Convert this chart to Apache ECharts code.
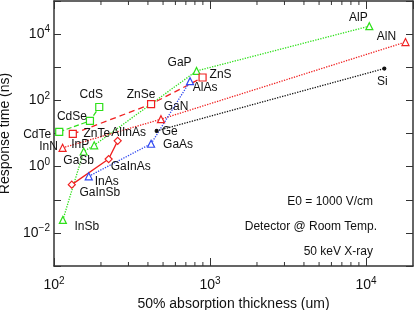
<!DOCTYPE html>
<html><head><meta charset="utf-8">
<script src="https://cdn.jsdelivr.net/npm/echarts@6/dist/echarts.min.js"></script>
<style>html,body{margin:0;padding:0;background:#fff}#c{width:415px;height:310px}</style>
</head><body><div id="c"></div>
<script>
// ---- data (thickness um, response time ns) ----
var cdNames = ['CdTe', 'CdSe', 'CdS'];
var cdX = [108, 170, 195];
var cdY = [11.2, 24, 63];

var znNames = ['ZnTe', 'ZnSe', 'ZnS'];
var znX = [132, 419, 896];
var znY = [9.7, 77, 490];

var nNames = ['InN', 'GaN', 'AlN'];
var nX = [113.5, 485, 17900];
var nY = [3.7, 27, 5750];

var sbpNames = ['InSb', 'GaSb', 'InP', 'GaP', 'AlP'];
var sbpX = [114, 155, 181, 820, 10500];
var sbpY = [0.0246, 2.86, 4.4, 774, 17400];

var asNames = ['InAs', 'GaAs', 'AlAs'];
var asX = [167, 419, 745];
var asY = [0.51, 4.9, 380];

var alloyNames = ['GaInSb', 'GaInAs', 'AlInAs'];
var alloyX = [130, 224, 256];
var alloyY = [0.286, 1.69, 6.0];

var elemNames = ['Ge', 'Si'];
var elemX = [455, 13100];
var elemY = [12, 914];

var xMinorTicks = [200, 300, 400, 500, 600, 700, 800, 900, 2000, 3000, 4000, 5000, 6000, 7000, 8000, 9000];
var notes = ['E0 = 1000 V/cm', 'Detector @ Room Temp.', '50 keV X-ray'];
var xTitle = '50% absorption thickness (um)';
var yTitle = 'Response time (ns)';

// ---- styling (label offsets relative to marker centre) ----
var labelOffsets = {
  CdTe: [-22, 3], CdSe: [-18, -4], CdS: [-8, -12],
  ZnTe: [24, 0], ZnSe: [-10, -9], ZnS: [18, -3],
  InN: [-14, -1], GaN: [15, -13], AlN: [-19, -5],
  InSb: [24, 7], GaSb: [-5, 9], InP: [-14, -1], GaP: [-17, -8], AlP: [-11, -8],
  InAs: [18, 5], GaAs: [27, 1], AlAs: [15, 7],
  GaInSb: [28, 8], GaInAs: [22, 8], AlInAs: [11, -8],
  Ge: [13, 1], Si: [-2, 13]
};
var FONT = '"Liberation Sans", Arial, Helvetica, sans-serif';
var GREEN = '#2ee01a', RED = '#f02020', BLUE = '#3048f0', BLACK = '#111';

function mk(names, xs, ys) {
  return names.map(function (n, i) {
    return { name: n, value: [xs[i], ys[i]], label: { offset: labelOffsets[n] } };
  });
}
function ser(names, xs, ys, color, symbol, size, lineType, filled) {
  return {
    type: 'line', data: mk(names, xs, ys), symbol: symbol, symbolSize: size,
    showAllSymbol: true,
    lineStyle: { color: color, width: 1.3, type: lineType },
    itemStyle: { color: filled ? color : '#fff', borderColor: color, borderWidth: 1.2 },
    label: { show: true, position: 'inside', formatter: '{b}', color: '#111',
      fontSize: 12, fontFamily: FONT },
    emphasis: { disabled: true }, z: 3
  };
}

function expOf(v) {
  var l = Math.log(v) / Math.LN10, e = Math.round(l);
  return Math.abs(l - e) > 1e-6 ? null : e;
}
function supText(e) { return '{b|10}{s|' + (e < 0 ? '\u2212' + (-e) : e) + '}'; }
function xLabel(v) { var e = expOf(v); return e === null ? '' : supText(e); }
function yLabel(v) { var e = expOf(v); return (e === null || Math.abs(e) % 2 === 1) ? '' : supText(e); }
var rich = {
  b: { fontSize: 14, fontFamily: FONT, color: '#111' },
  s: { fontSize: 10, fontFamily: FONT, color: '#111', padding: [0, 0, 9, 0] }
};
var axisLine = { show: true, lineStyle: { color: '#333', width: 1.5 } };

var chart = echarts.init(document.getElementById('c'));
chart.setOption({
  animation: false,
  grid: { left: 54, right: 2, top: 1, bottom: 44, containLabel: false, outerBoundsMode: 'none' },
  xAxis: [{
    type: 'log', logBase: 10, min: 100, max: 20000, position: 'bottom',
    axisLine: axisLine, splitLine: { show: false },
    axisTick: { inside: true, length: 8, lineStyle: { color: '#333' } },
    axisLabel: { formatter: xLabel, rich: rich, margin: 10, showMaxLabel: false },
    name: xTitle, nameLocation: 'middle', nameGap: 30,
    nameTextStyle: { fontSize: 14, fontFamily: FONT, color: '#111' }
  }, {
    type: 'log', logBase: 10, min: 100, max: 20000, position: 'top',
    axisLine: axisLine, splitLine: { show: false },
    axisTick: { inside: true, length: 8, lineStyle: { color: '#333' } },
    axisLabel: { show: false }
  }],
  yAxis: [{
    type: 'log', logBase: 10, min: 0.001, max: 100000, splitNumber: 8, position: 'left',
    axisLine: axisLine, splitLine: { show: false },
    axisTick: { inside: true, length: 7, lineStyle: { color: '#333' } },
    axisLabel: { formatter: yLabel, rich: rich, margin: 4 },
    name: yTitle, nameLocation: 'middle', nameGap: 36, nameRotate: 90,
    nameTextStyle: { fontSize: 14, fontFamily: FONT, color: '#111' }
  }, {
    type: 'log', logBase: 10, min: 0.001, max: 100000, splitNumber: 8, position: 'right',
    axisLine: axisLine, splitLine: { show: false },
    axisTick: { inside: true, length: 7, lineStyle: { color: '#333' } },
    axisLabel: { show: false }
  }],
  series: [
    ser(sbpNames, sbpX, sbpY, GREEN, 'triangle', 7, 'dotted'),
    ser(cdNames, cdX, cdY, GREEN, 'rect', 7, 'dashed'),
    ser(znNames, znX, znY, RED, 'rect', 7, [6, 4]),
    ser(nNames, nX, nY, RED, 'triangle', 7, 'dotted'),
    ser(asNames, asX, asY, BLUE, 'triangle', 7, 'dotted'),
    ser(alloyNames, alloyX, alloyY, RED, 'diamond', 7, 'solid'),
    ser(elemNames, elemX, elemY, BLACK, 'circle', 3, 'dotted', true),
    {
      type: 'custom', coordinateSystem: 'cartesian2d', silent: true, z: 2,
      data: xMinorTicks.map(function (v) { return [v, 1]; }),
      renderItem: function (params, api) {
        var x = api.coord([api.value(0), 1])[0];
        var cs = params.coordSys;
        var st = { stroke: '#333', lineWidth: 1 };
        return { type: 'group', children: [
          { type: 'line', shape: { x1: x, y1: cs.y + cs.height, x2: x, y2: cs.y + cs.height - 4 }, style: st },
          { type: 'line', shape: { x1: x, y1: cs.y, x2: x, y2: cs.y + 4 }, style: st }
        ] };
      }
    }
  ],
  graphic: notes.map(function (t, i) {
    return { type: 'text', right: [42, 38, 42][i], top: [196, 221, 246][i],
      style: { text: t, fontSize: 12, fontFamily: FONT, fill: '#111' } };
  })
});
</script></body></html>
